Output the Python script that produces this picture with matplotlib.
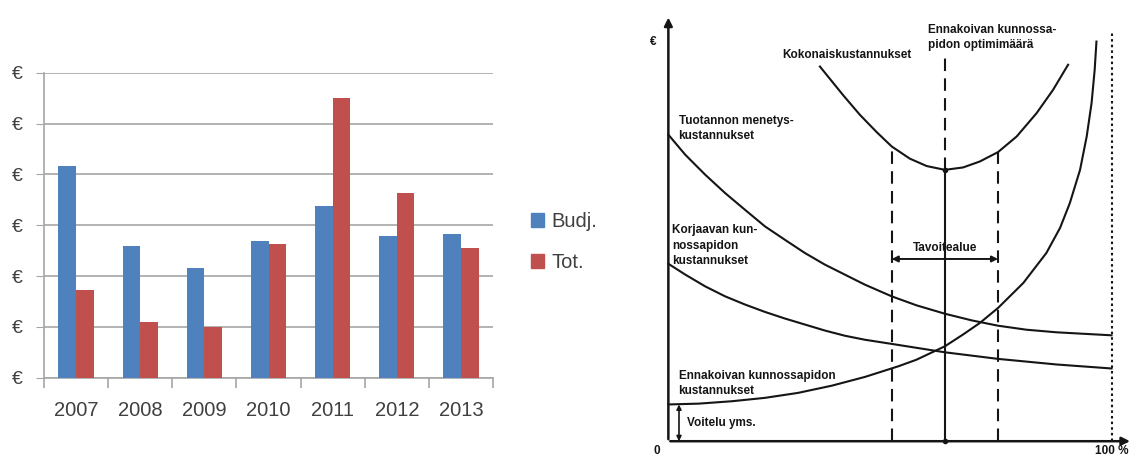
import numpy as np
import matplotlib
matplotlib.use("Agg")
import matplotlib.pyplot as plt
from matplotlib.patches import Patch

# --- left panel: budget vs. actual per year ---
years = ["2007", "2008", "2009", "2010", "2011", "2012", "2013"]
budj = [4.17, 2.59, 2.15, 2.68, 3.37, 2.78, 2.83]
tot = [1.73, 1.09, 1.00, 2.64, 5.51, 3.63, 2.55]
y_ticks = [0, 1, 2, 3, 4, 5, 6]

# --- right panel: maintenance cost curves (x = % of preventive maintenance) ---
loss_x = [0, 3.8, 8.3, 12.8, 17.3, 21.8, 26.3, 30.8, 35.3, 39.8, 44.3, 50.4,
          56.0, 62.4, 68.4, 74.4, 80.8, 87.6, 100]
loss_y = [76.7, 71.7, 66.7, 62.1, 57.9, 53.75, 50.4, 47.1, 44.2, 41.7, 39.2, 36.25,
          34.0, 31.9, 30.25, 28.9, 27.9, 27.25, 26.5]

corr_x = [0, 3.8, 8.3, 12.8, 17.3, 21.8, 26.3, 30.8, 35.3, 39.8, 44.3, 50.4,
          62.4, 74.4, 87.6, 100]
corr_y = [44.4, 41.7, 38.75, 36.25, 34.2, 32.35, 30.7, 29.2, 27.7, 26.4, 25.4, 24.35,
          22.25, 20.6, 19.2, 18.2]

prev_x = [0, 6.8, 14.3, 21.8, 29.3, 36.9, 44.4, 51.9, 56.0, 62.4, 66.5, 70.3,
          74.4, 80.1, 85.3, 88.4, 90.6, 92.9, 94.4, 95.5, 96.2, 96.6]
prev_y = [9.2, 9.4, 10.0, 10.85, 12.1, 13.9, 16.1, 18.75, 20.4, 23.75, 26.7, 29.6,
          33.35, 39.6, 47.1, 53.4, 59.6, 67.9, 76.25, 84.6, 92.9, 100]

total_x = [34.2, 39.5, 43.2, 47.0, 50.4, 54.5, 58.3, 62.4, 66.5, 70.3, 74.4, 78.6,
           83.1, 86.8, 90.2]
total_y = [93.75, 86.5, 81.7, 77.35, 73.75, 70.7, 68.85, 67.9, 68.5, 70.0, 72.35, 76.25,
           82.1, 87.9, 94.2]

optimum = 62.4
target_lo, target_hi = 50.4, 74.4
lubrication = 9.2

BLUE = "#4f81bd"
RED = "#c0504d"
GRID = "#a6a6a6"
TXT = "#404040"
INK = "#151515"

W, H = 1135, 458
fig = plt.figure(figsize=(W / 100, H / 100), dpi=100)
fig.patch.set_facecolor("white")

ax = fig.add_axes([44 / W, 1 - 377.7 / H, 449 / W, 305 / H])
x = np.arange(len(years))
bw = 0.276
ax.bar(x - bw / 2, budj, bw, color=BLUE, zorder=3)
ax.bar(x + bw / 2, tot, bw, color=RED, zorder=3)
ax.set_xlim(-0.5, len(years) - 0.5)
ax.set_ylim(0, 6)
ax.set_yticks(y_ticks)
ax.set_yticklabels(["€"] * len(y_ticks), fontsize=14, color=TXT, family="Liberation Sans")
ax.yaxis.grid(True, color=GRID, lw=1.2, zorder=0)
ax.tick_params(axis="y", length=6, color=GRID, pad=9)
ax.set_xticks(x)
ax.set_xticklabels(years, fontsize=14.5, color=TXT, family="Liberation Sans")
ax.set_xticks(np.arange(len(years) + 1) - 0.5, minor=True)
ax.tick_params(axis="x", which="major", length=0, pad=17)
ax.tick_params(axis="x", which="minor", length=7, color=GRID, width=1.2)
for s in ["top", "right"]:
    ax.spines[s].set_visible(False)
for s in ["left", "bottom"]:
    ax.spines[s].set_color(GRID)
    ax.spines[s].set_linewidth(1.2)

handles = [Patch(color=BLUE, label="Budj."), Patch(color=RED, label="Tot.")]
fig.legend(handles=handles, loc="center left", bbox_to_anchor=(513 / W, 1 - 242 / H),
           frameon=False, prop={"family": "Liberation Sans", "size": 14.5},
           labelcolor=TXT, handlelength=0.65, handleheight=0.65, handletextpad=0.35,
           labelspacing=1.1)

# --- cost curve diagram ---
ax2 = fig.add_axes([640 / W, 0, 495 / W, 1])
ax2.set_xlim(-6.4, 105.3)
ax2.set_ylim(-4.2, 110.4)
ax2.axis("off")

lw = 1.5
ax2.plot(loss_x, loss_y, color=INK, lw=lw)
ax2.plot(corr_x, corr_y, color=INK, lw=lw)
ax2.plot(prev_x, prev_y, color=INK, lw=lw)
ax2.plot(total_x, total_y, color=INK, lw=lw)

# axes with arrow heads
ax2.annotate("", xy=(0, 106.7), xytext=(0, -0.2),
             arrowprops=dict(arrowstyle="-|>", color=INK, lw=1.8, mutation_scale=12))
ax2.annotate("", xy=(104.8, 0), xytext=(-0.2, 0),
             arrowprops=dict(arrowstyle="-|>", color=INK, lw=1.8, mutation_scale=12))

dash = (0, (6, 3.5))

# optimum: dashed above the minimum, solid below
opt_min = total_y[total_x.index(optimum)]
ax2.plot([optimum, optimum], [opt_min, 96.7], color=INK, lw=1.5, ls=dash)
ax2.plot([optimum, optimum], [0, opt_min], color=INK, lw=1.5)
ax2.plot([optimum], [opt_min], "o", color=INK, ms=3)
ax2.plot([optimum], [0], "o", color=INK, ms=3)

# target range
y_lo = np.interp(target_lo, total_x, total_y)
y_hi = np.interp(target_hi, total_x, total_y)
ax2.plot([target_lo, target_lo], [0, y_lo], color=INK, lw=1.5, ls=dash)
ax2.plot([target_hi, target_hi], [0, y_hi], color=INK, lw=1.5, ls=dash)
ax2.annotate("", xy=(target_lo, 45.6), xytext=(target_hi, 45.6),
             arrowprops=dict(arrowstyle="<|-|>", color=INK, lw=1.4, mutation_scale=9,
                             shrinkA=0, shrinkB=0))

# 100 % limit
ax2.plot([100, 100], [0, 102.2], color=INK, lw=1.5, ls=(0, (1.2, 1.5)))

# lubrication baseline
ax2.annotate("", xy=(2.4, 0), xytext=(2.4, lubrication),
             arrowprops=dict(arrowstyle="<|-|>", color=INK, lw=1.2, mutation_scale=7,
                             shrinkA=0, shrinkB=0))

fk = dict(family="Liberation Sans", fontweight="bold", fontsize=8.5, color=INK,
          linespacing=1.4)
ax2.text(-3.4, 99.9, "€", ha="center", va="center", **fk)
ax2.text(-2.5, -3.9, "0", ha="center", va="bottom", **fk)
ax2.text(100, -3.9, "100 %", ha="center", va="bottom", **fk)
ax2.text(58.7, 101.0, "Ennakoivan kunnossa-\npidon optimimäärä", ha="left", va="center", **fk)
ax2.text(25.6, 96.7, "Kokonaiskustannukset", ha="left", va="center", **fk)
ax2.text(2.3, 78.2, "Tuotannon menetys-\nkustannukset", ha="left", va="center", **fk)
ax2.text(0.8, 48.9, "Korjaavan kun-\nnossapidon\nkustannukset", ha="left", va="center", **fk)
ax2.text(62.4, 48.35, "Tavoitealue", ha="center", va="center", **fk)
ax2.text(2.3, 14.45, "Ennakoivan kunnossapidon\nkustannukset", ha="left", va="center", **fk)
ax2.text(4.1, 4.6, "Voitelu yms.", ha="left", va="center", **fk)

fig.savefig("out.png", dpi=100, facecolor="white")
